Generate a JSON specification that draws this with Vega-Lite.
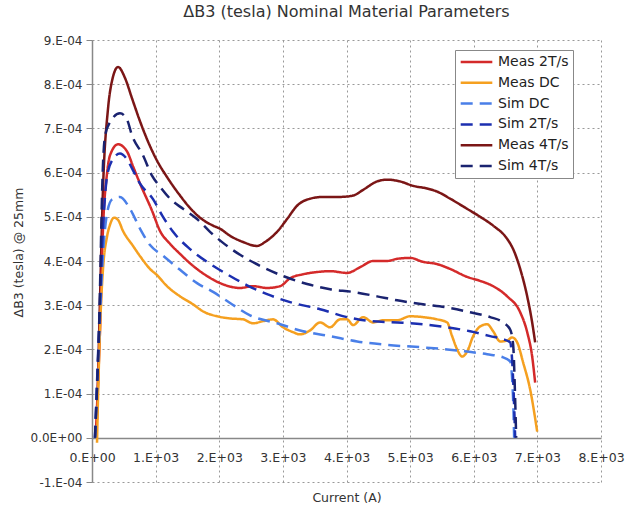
{
 "$schema": "https://vega.github.io/schema/vega-lite/v6.json",
 "width": 509, "height": 442,
 "autosize": {"type": "none"},
 "padding": {"left": 92, "top": 40, "right": 27, "bottom": 34},
 "background": "white",
 "title": {"text": "ΔB3 (tesla) Nominal Material Parameters", "font": "DejaVu Sans", "fontSize": 16, "fontWeight": "normal", "color": "#333", "offset": 14, "anchor": "middle"},
 "data": {"values": [
  {"s":"Meas 4T/s","x":79,"y":0.41e-4},{"s":"Meas 4T/s","x":126,"y":3.14e-4},{"s":"Meas 4T/s","x":173,"y":5.64e-4},{"s":"Meas 4T/s","x":252,"y":7.45e-4},{"s":"Meas 4T/s","x":314,"y":8.07e-4},{"s":"Meas 4T/s","x":409,"y":8.39e-4},{"s":"Meas 4T/s","x":519,"y":8.14e-4},{"s":"Meas 4T/s","x":629,"y":7.68e-4},{"s":"Meas 4T/s","x":755,"y":7.16e-4},{"s":"Meas 4T/s","x":881,"y":6.70e-4},{"s":"Meas 4T/s","x":1022,"y":6.27e-4},{"s":"Meas 4T/s","x":1179,"y":5.90e-4},{"s":"Meas 4T/s","x":1384,"y":5.48e-4},{"s":"Meas 4T/s","x":1541,"y":5.20e-4},{"s":"Meas 4T/s","x":1698,"y":4.98e-4},{"s":"Meas 4T/s","x":1903,"y":4.80e-4},{"s":"Meas 4T/s","x":2013,"y":4.73e-4},{"s":"Meas 4T/s","x":2170,"y":4.57e-4},{"s":"Meas 4T/s","x":2374,"y":4.43e-4},{"s":"Meas 4T/s","x":2594,"y":4.34e-4},{"s":"Meas 4T/s","x":2720,"y":4.43e-4},{"s":"Meas 4T/s","x":2909,"y":4.66e-4},{"s":"Meas 4T/s","x":3066,"y":4.95e-4},{"s":"Meas 4T/s","x":3223,"y":5.25e-4},{"s":"Meas 4T/s","x":3428,"y":5.41e-4},{"s":"Meas 4T/s","x":3632,"y":5.45e-4},{"s":"Meas 4T/s","x":3899,"y":5.45e-4},{"s":"Meas 4T/s","x":4104,"y":5.48e-4},{"s":"Meas 4T/s","x":4261,"y":5.61e-4},{"s":"Meas 4T/s","x":4481,"y":5.80e-4},{"s":"Meas 4T/s","x":4638,"y":5.84e-4},{"s":"Meas 4T/s","x":4843,"y":5.80e-4},{"s":"Meas 4T/s","x":5047,"y":5.70e-4},{"s":"Meas 4T/s","x":5267,"y":5.64e-4},{"s":"Meas 4T/s","x":5425,"y":5.57e-4},{"s":"Meas 4T/s","x":5629,"y":5.41e-4},{"s":"Meas 4T/s","x":5896,"y":5.18e-4},{"s":"Meas 4T/s","x":6101,"y":5.00e-4},{"s":"Meas 4T/s","x":6305,"y":4.80e-4},{"s":"Meas 4T/s","x":6525,"y":4.50e-4},{"s":"Meas 4T/s","x":6619,"y":4.27e-4},{"s":"Meas 4T/s","x":6730,"y":3.82e-4},{"s":"Meas 4T/s","x":6840,"y":3.20e-4},{"s":"Meas 4T/s","x":6918,"y":2.61e-4},{"s":"Meas 4T/s","x":6965,"y":2.16e-4},

  {"s":"Meas 2T/s","x":63,"y":0.18e-4},{"s":"Meas 2T/s","x":126,"y":2.45e-4},{"s":"Meas 2T/s","x":173,"y":4.73e-4},{"s":"Meas 2T/s","x":236,"y":5.98e-4},{"s":"Meas 2T/s","x":283,"y":6.39e-4},{"s":"Meas 2T/s","x":409,"y":6.64e-4},{"s":"Meas 2T/s","x":550,"y":6.48e-4},{"s":"Meas 2T/s","x":645,"y":6.14e-4},{"s":"Meas 2T/s","x":755,"y":5.75e-4},{"s":"Meas 2T/s","x":943,"y":5.14e-4},{"s":"Meas 2T/s","x":1069,"y":4.68e-4},{"s":"Meas 2T/s","x":1226,"y":4.39e-4},{"s":"Meas 2T/s","x":1384,"y":4.16e-4},{"s":"Meas 2T/s","x":1588,"y":3.89e-4},{"s":"Meas 2T/s","x":1808,"y":3.66e-4},{"s":"Meas 2T/s","x":2013,"y":3.50e-4},{"s":"Meas 2T/s","x":2327,"y":3.39e-4},{"s":"Meas 2T/s","x":2531,"y":3.43e-4},{"s":"Meas 2T/s","x":2752,"y":3.39e-4},{"s":"Meas 2T/s","x":2956,"y":3.43e-4},{"s":"Meas 2T/s","x":3113,"y":3.61e-4},{"s":"Meas 2T/s","x":3318,"y":3.70e-4},{"s":"Meas 2T/s","x":3538,"y":3.75e-4},{"s":"Meas 2T/s","x":3742,"y":3.77e-4},{"s":"Meas 2T/s","x":4009,"y":3.73e-4},{"s":"Meas 2T/s","x":4214,"y":3.86e-4},{"s":"Meas 2T/s","x":4418,"y":4.00e-4},{"s":"Meas 2T/s","x":4638,"y":4.00e-4},{"s":"Meas 2T/s","x":4796,"y":4.05e-4},{"s":"Meas 2T/s","x":5000,"y":4.07e-4},{"s":"Meas 2T/s","x":5204,"y":3.98e-4},{"s":"Meas 2T/s","x":5425,"y":3.93e-4},{"s":"Meas 2T/s","x":5629,"y":3.82e-4},{"s":"Meas 2T/s","x":5896,"y":3.64e-4},{"s":"Meas 2T/s","x":6101,"y":3.55e-4},{"s":"Meas 2T/s","x":6305,"y":3.43e-4},{"s":"Meas 2T/s","x":6525,"y":3.20e-4},{"s":"Meas 2T/s","x":6730,"y":2.84e-4},{"s":"Meas 2T/s","x":6840,"y":2.39e-4},{"s":"Meas 2T/s","x":6918,"y":1.84e-4},{"s":"Meas 2T/s","x":6965,"y":1.25e-4},

  {"s":"Meas DC","x":79,"y":-0.11e-4},{"s":"Meas DC","x":94,"y":0.86e-4},{"s":"Meas DC","x":126,"y":2.45e-4},{"s":"Meas DC","x":173,"y":3.82e-4},{"s":"Meas DC","x":236,"y":4.55e-4},{"s":"Meas DC","x":283,"y":4.82e-4},{"s":"Meas DC","x":346,"y":4.98e-4},{"s":"Meas DC","x":409,"y":4.93e-4},{"s":"Meas DC","x":487,"y":4.68e-4},{"s":"Meas DC","x":645,"y":4.34e-4},{"s":"Meas DC","x":755,"y":4.11e-4},{"s":"Meas DC","x":912,"y":3.82e-4},{"s":"Meas DC","x":1022,"y":3.68e-4},{"s":"Meas DC","x":1179,"y":3.43e-4},{"s":"Meas DC","x":1384,"y":3.20e-4},{"s":"Meas DC","x":1588,"y":3.02e-4},{"s":"Meas DC","x":1745,"y":2.86e-4},{"s":"Meas DC","x":1965,"y":2.75e-4},{"s":"Meas DC","x":2170,"y":2.70e-4},{"s":"Meas DC","x":2374,"y":2.68e-4},{"s":"Meas DC","x":2531,"y":2.59e-4},{"s":"Meas DC","x":2689,"y":2.64e-4},{"s":"Meas DC","x":2846,"y":2.68e-4},{"s":"Meas DC","x":3003,"y":2.50e-4},{"s":"Meas DC","x":3160,"y":2.39e-4},{"s":"Meas DC","x":3270,"y":2.34e-4},{"s":"Meas DC","x":3428,"y":2.43e-4},{"s":"Meas DC","x":3585,"y":2.61e-4},{"s":"Meas DC","x":3742,"y":2.50e-4},{"s":"Meas DC","x":3899,"y":2.68e-4},{"s":"Meas DC","x":4009,"y":2.68e-4},{"s":"Meas DC","x":4104,"y":2.55e-4},{"s":"Meas DC","x":4261,"y":2.73e-4},{"s":"Meas DC","x":4418,"y":2.61e-4},{"s":"Meas DC","x":4575,"y":2.66e-4},{"s":"Meas DC","x":4796,"y":2.66e-4},{"s":"Meas DC","x":5000,"y":2.75e-4},{"s":"Meas DC","x":5204,"y":2.73e-4},{"s":"Meas DC","x":5425,"y":2.68e-4},{"s":"Meas DC","x":5582,"y":2.61e-4},{"s":"Meas DC","x":5660,"y":2.30e-4},{"s":"Meas DC","x":5739,"y":2.00e-4},{"s":"Meas DC","x":5818,"y":1.84e-4},{"s":"Meas DC","x":5896,"y":1.95e-4},{"s":"Meas DC","x":5991,"y":2.30e-4},{"s":"Meas DC","x":6101,"y":2.52e-4},{"s":"Meas DC","x":6211,"y":2.57e-4},{"s":"Meas DC","x":6305,"y":2.41e-4},{"s":"Meas DC","x":6415,"y":2.18e-4},{"s":"Meas DC","x":6525,"y":2.20e-4},{"s":"Meas DC","x":6604,"y":2.27e-4},{"s":"Meas DC","x":6682,"y":2.16e-4},{"s":"Meas DC","x":6777,"y":1.70e-4},{"s":"Meas DC","x":6887,"y":1.09e-4},{"s":"Meas DC","x":6997,"y":0.14e-4},

  {"s":"Sim DC","x":47,"y":0},{"s":"Sim DC","x":110,"y":2.23e-4},{"s":"Sim DC","x":173,"y":4.16e-4},{"s":"Sim DC","x":236,"y":5.07e-4},{"s":"Sim DC","x":314,"y":5.39e-4},{"s":"Sim DC","x":440,"y":5.45e-4},{"s":"Sim DC","x":598,"y":5.18e-4},{"s":"Sim DC","x":755,"y":4.73e-4},{"s":"Sim DC","x":912,"y":4.36e-4},{"s":"Sim DC","x":1116,"y":4.12e-4},{"s":"Sim DC","x":1384,"y":3.80e-4},{"s":"Sim DC","x":1651,"y":3.50e-4},{"s":"Sim DC","x":1903,"y":3.30e-4},{"s":"Sim DC","x":2170,"y":3.05e-4},{"s":"Sim DC","x":2484,"y":2.77e-4},{"s":"Sim DC","x":2909,"y":2.59e-4},{"s":"Sim DC","x":3318,"y":2.41e-4},{"s":"Sim DC","x":3742,"y":2.30e-4},{"s":"Sim DC","x":4167,"y":2.18e-4},{"s":"Sim DC","x":4575,"y":2.11e-4},{"s":"Sim DC","x":5157,"y":2.05e-4},{"s":"Sim DC","x":5582,"y":2.00e-4},{"s":"Sim DC","x":5896,"y":1.95e-4},{"s":"Sim DC","x":6211,"y":1.89e-4},{"s":"Sim DC","x":6462,"y":1.82e-4},{"s":"Sim DC","x":6572,"y":1.73e-4},{"s":"Sim DC","x":6619,"y":0.86e-4},{"s":"Sim DC","x":6635,"y":0},

  {"s":"Sim 2T/s","x":47,"y":0},{"s":"Sim 2T/s","x":110,"y":2.45e-4},{"s":"Sim 2T/s","x":173,"y":4.73e-4},{"s":"Sim 2T/s","x":236,"y":5.91e-4},{"s":"Sim 2T/s","x":314,"y":6.27e-4},{"s":"Sim 2T/s","x":440,"y":6.43e-4},{"s":"Sim 2T/s","x":550,"y":6.30e-4},{"s":"Sim 2T/s","x":645,"y":6.05e-4},{"s":"Sim 2T/s","x":755,"y":5.75e-4},{"s":"Sim 2T/s","x":959,"y":5.40e-4},{"s":"Sim 2T/s","x":1116,"y":5.00e-4},{"s":"Sim 2T/s","x":1274,"y":4.66e-4},{"s":"Sim 2T/s","x":1541,"y":4.27e-4},{"s":"Sim 2T/s","x":1808,"y":3.98e-4},{"s":"Sim 2T/s","x":2123,"y":3.70e-4},{"s":"Sim 2T/s","x":2437,"y":3.45e-4},{"s":"Sim 2T/s","x":2752,"y":3.25e-4},{"s":"Sim 2T/s","x":3113,"y":3.07e-4},{"s":"Sim 2T/s","x":3585,"y":2.91e-4},{"s":"Sim 2T/s","x":4009,"y":2.73e-4},{"s":"Sim 2T/s","x":4371,"y":2.64e-4},{"s":"Sim 2T/s","x":4796,"y":2.61e-4},{"s":"Sim 2T/s","x":5204,"y":2.57e-4},{"s":"Sim 2T/s","x":5582,"y":2.50e-4},{"s":"Sim 2T/s","x":5943,"y":2.41e-4},{"s":"Sim 2T/s","x":6258,"y":2.30e-4},{"s":"Sim 2T/s","x":6462,"y":2.23e-4},{"s":"Sim 2T/s","x":6572,"y":2.16e-4},{"s":"Sim 2T/s","x":6619,"y":1.32e-4},{"s":"Sim 2T/s","x":6651,"y":0},

  {"s":"Sim 4T/s","x":47,"y":0},{"s":"Sim 4T/s","x":110,"y":2.45e-4},{"s":"Sim 4T/s","x":173,"y":6.20e-4},{"s":"Sim 4T/s","x":204,"y":6.82e-4},{"s":"Sim 4T/s","x":283,"y":7.14e-4},{"s":"Sim 4T/s","x":440,"y":7.34e-4},{"s":"Sim 4T/s","x":550,"y":7.20e-4},{"s":"Sim 4T/s","x":629,"y":6.84e-4},{"s":"Sim 4T/s","x":802,"y":6.39e-4},{"s":"Sim 4T/s","x":943,"y":5.93e-4},{"s":"Sim 4T/s","x":1069,"y":5.68e-4},{"s":"Sim 4T/s","x":1226,"y":5.41e-4},{"s":"Sim 4T/s","x":1431,"y":5.18e-4},{"s":"Sim 4T/s","x":1651,"y":4.95e-4},{"s":"Sim 4T/s","x":1855,"y":4.66e-4},{"s":"Sim 4T/s","x":2060,"y":4.41e-4},{"s":"Sim 4T/s","x":2327,"y":4.14e-4},{"s":"Sim 4T/s","x":2642,"y":3.89e-4},{"s":"Sim 4T/s","x":3003,"y":3.66e-4},{"s":"Sim 4T/s","x":3381,"y":3.48e-4},{"s":"Sim 4T/s","x":3742,"y":3.36e-4},{"s":"Sim 4T/s","x":4104,"y":3.30e-4},{"s":"Sim 4T/s","x":4481,"y":3.20e-4},{"s":"Sim 4T/s","x":4796,"y":3.11e-4},{"s":"Sim 4T/s","x":5204,"y":3.02e-4},{"s":"Sim 4T/s","x":5582,"y":2.95e-4},{"s":"Sim 4T/s","x":5943,"y":2.84e-4},{"s":"Sim 4T/s","x":6258,"y":2.73e-4},{"s":"Sim 4T/s","x":6462,"y":2.61e-4},{"s":"Sim 4T/s","x":6572,"y":2.45e-4},{"s":"Sim 4T/s","x":6619,"y":2.11e-4},{"s":"Sim 4T/s","x":6651,"y":0.86e-4},{"s":"Sim 4T/s","x":6667,"y":0}
 ]},
 "mark": {"type": "line", "strokeWidth": 2.5, "interpolate": "monotone", "clip": false},
 "encoding": {
  "x": {"field": "x", "type": "quantitative", "scale": {"domain": [0, 8000], "nice": false},
   "axis": {"values": [0,1000,2000,3000,4000,5000,6000,7000,8000], "title": "Current (A)", "offset": -44, "ticks": false, "labelPadding": 13,
    "labelOverlap": false, "labelFlush": false, "labelBound": false,
    "labelExpr": "datum.value == 0 ? '0.E+00' : (datum.value/1000) + '.E+03'",
    "domainColor": "#888", "domainWidth": 1.5, "grid": true, "gridColor": "#999", "gridDash": [2,3],
    "labelFont": "DejaVu Sans", "labelFontSize": 12.5, "labelColor": "#333",
    "titleFont": "DejaVu Sans", "titleFontSize": 12.5, "titleFontWeight": "normal", "titleColor": "#333", "titleY": 59, "titleBaseline": "middle"}},
  "y": {"field": "y", "type": "quantitative", "scale": {"domain": [-0.0001, 0.0009], "nice": false, "zero": false},
   "axis": {"values": [-0.0001,0,0.0001,0.0002,0.0003,0.0004,0.0005,0.0006,0.0007,0.0008,0.0009], "title": "ΔB3 (tesla) @ 25mm",
    "tickSize": 6, "tickColor": "#888", "labelPadding": 4, "labelOverlap": false, "labelFlush": false,
    "labelExpr": "datum.value == 0 ? '0.0E+00' : round(datum.value*10000) + '.E-04'",
    "domainColor": "#888", "domainWidth": 1.5, "grid": true, "gridColor": "#999", "gridDash": [2,3],
    "labelFont": "DejaVu Sans", "labelFontSize": 12, "labelColor": "#333",
    "titleFont": "DejaVu Sans", "titleFontSize": 12.5, "titleFontWeight": "normal", "titleColor": "#333", "titleX": -74, "titleY": 212, "titleBaseline": "middle"}},
  "color": {"field": "s", "type": "nominal",
   "scale": {"domain": ["Meas 2T/s","Meas DC","Sim DC","Sim 2T/s","Meas 4T/s","Sim 4T/s"], "range": ["#d42a2a","#f5a020","#4a7fe8","#1c2fb0","#7b1616","#1a2370"]},
   "legend": {"title": null}},
  "strokeDash": {"field": "s", "type": "nominal",
   "scale": {"domain": ["Meas 2T/s","Meas DC","Sim DC","Sim 2T/s","Meas 4T/s","Sim 4T/s"], "range": [[1,0],[1,0],[12,7],[12,7],[1,0],[12,7]]},
   "legend": {"title": null}}
 },
 "config": {
  "view": {"stroke": null},
  "legend": {"orient": "none", "legendX": 363, "legendY": 10, "padding": 4, "strokeColor": "#888", "fillColor": "white",
   "symbolType": "stroke", "symbolSize": 1000, "symbolStrokeWidth": 2.5, "labelFont": "DejaVu Sans", "labelFontSize": 14, "labelColor": "#222",
   "clipHeight": 16, "rowPadding": 4.8, "labelOffset": 4, "labelLimit": 200}
 }
}
